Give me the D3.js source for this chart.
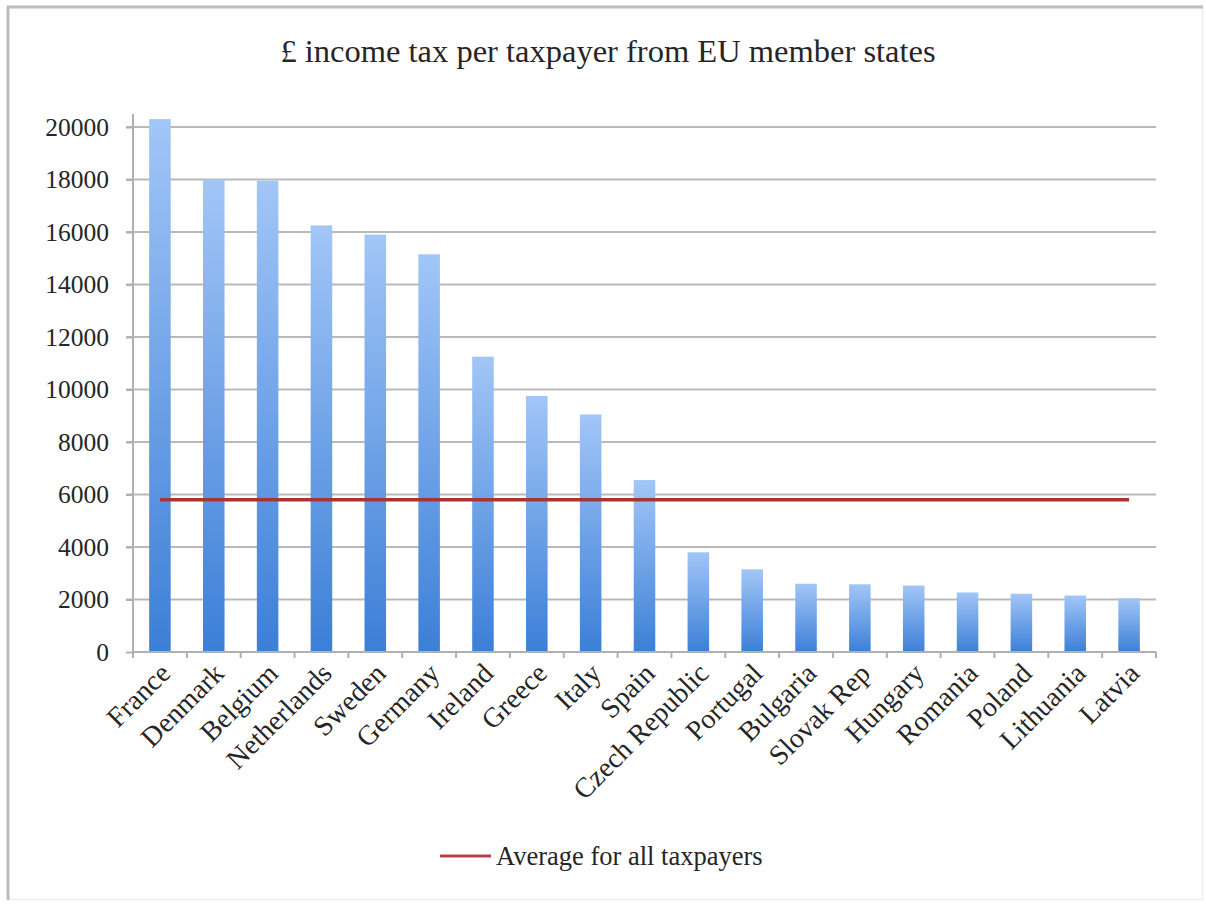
<!DOCTYPE html>
<html>
<head>
<meta charset="utf-8">
<script src="https://cdn.jsdelivr.net/npm/d3@7"></script>
<style>
  html, body { margin: 0; padding: 0; background: #fff; }
  svg { display: block; }
  text { font-family: "Liberation Serif", "Times New Roman", serif; fill: #262626; }
</style>
</head>
<body>
<div id="chart"></div>
<script>
// Income tax per taxpayer (£), by EU member state
const countries = ["France", "Denmark", "Belgium", "Netherlands", "Sweden", "Germany",
  "Ireland", "Greece", "Italy", "Spain", "Czech Republic", "Portugal", "Bulgaria",
  "Slovak Rep", "Hungary", "Romania", "Poland", "Lithuania", "Latvia"];
const taxPerTaxpayer = [20300, 18000, 17950, 16250, 15900, 15150, 11250, 9750, 9050,
  6550, 3800, 3150, 2600, 2580, 2530, 2270, 2220, 2150, 2050];
const averageAll = 5800;
const yTicks = [0, 2000, 4000, 6000, 8000, 10000, 12000, 14000, 16000, 18000, 20000];
const titleText = "£ income tax per taxpayer from EU member states";
const legendLabel = "Average for all taxpayers";

const W = 1206, H = 906;
const plot = { left: 133, right: 1156, top: 127, bottom: 652 };

const svg = d3.select("#chart").append("svg").attr("width", W).attr("height", H);

// outer frame
svg.append("rect").attr("x", 8.5).attr("y", 7.5).attr("width", W - 12).attr("height", H - 14)
  .attr("fill", "#fff").attr("stroke", "#ededed").attr("stroke-width", 1.5);
svg.append("path").attr("d", `M8,${H - 6} L8,7 L${W - 3},7`)
  .attr("fill", "none").attr("stroke", "#bdbdbd").attr("stroke-width", 3);

const x = d3.scaleBand().domain(countries).range([plot.left, plot.right]);
const y = d3.scaleLinear().domain([0, 20000]).range([plot.bottom, plot.top]);

// bar gradient
const defs = svg.append("defs");
const grad = defs.append("linearGradient").attr("id", "barGrad")
  .attr("x1", 0).attr("y1", 0).attr("x2", 0).attr("y2", 1);
grad.append("stop").attr("offset", "0%").attr("stop-color", "#a2c6f7");
grad.append("stop").attr("offset", "100%").attr("stop-color", "#3c7fd7");

// gridlines
svg.append("g").selectAll("line").data(yTicks.filter(d => d > 0)).join("line")
  .attr("x1", plot.left - 7).attr("x2", plot.right)
  .attr("y1", d => y(d)).attr("y2", d => y(d))
  .attr("stroke", "#b9b9b9").attr("stroke-width", 2);

// y axis
const yAxis = svg.append("g").attr("transform", `translate(${plot.left},0)`)
  .call(d3.axisLeft(y).tickValues(yTicks).tickSize(7).tickPadding(17).tickFormat(d3.format("d")));
yAxis.select(".domain").remove();
yAxis.selectAll(".tick line").attr("stroke", "#b0b0b0").attr("stroke-width", 2);
yAxis.selectAll(".tick text").style("font-size", "25.5px").attr("fill", "#262626")
  .style("font-family", "'Liberation Serif', serif");
svg.append("line").attr("x1", plot.left).attr("x2", plot.left)
  .attr("y1", y(0)).attr("y2", y(20500))
  .attr("stroke", "#b0b0b0").attr("stroke-width", 2);

// bars
const barW = x.bandwidth() * 0.4;
svg.append("g").selectAll("rect").data(countries).join("rect")
  .attr("x", d => x(d) + (x.bandwidth() - barW) / 2)
  .attr("width", barW)
  .attr("y", (d, i) => y(taxPerTaxpayer[i]))
  .attr("height", (d, i) => y(0) - y(taxPerTaxpayer[i]))
  .attr("fill", "url(#barGrad)");

// x axis
svg.append("line").attr("x1", plot.left).attr("x2", plot.right)
  .attr("y1", y(0)).attr("y2", y(0))
  .attr("stroke", "#b0b0b0").attr("stroke-width", 2);
const bounds = countries.map(c => x(c)).concat([x(countries[countries.length - 1]) + x.bandwidth()]);
svg.append("g").selectAll("line").data(bounds).join("line")
  .attr("x1", d => d).attr("x2", d => d)
  .attr("y1", y(0)).attr("y2", y(0) + 6)
  .attr("stroke", "#b0b0b0").attr("stroke-width", 2);

// category labels
svg.append("g").selectAll("text").data(countries).join("text")
  .attr("transform", d => `translate(${x(d) + x.bandwidth() / 2 + 12},${y(0) + 23}) rotate(-45)`)
  .attr("text-anchor", "end")
  .style("font-size", "28px")
  .text(d => d);

// average line
svg.append("line")
  .attr("x1", x(countries[0]) + x.bandwidth() / 2)
  .attr("x2", x(countries[countries.length - 1]) + x.bandwidth() / 2)
  .attr("y1", y(averageAll)).attr("y2", y(averageAll))
  .attr("stroke", "#a93434").attr("stroke-width", 3.5);

// title
svg.append("text").attr("x", 608).attr("y", 62).attr("text-anchor", "middle")
  .style("font-size", "32.5px").text(titleText);

// legend
const lg = svg.append("g").attr("transform", "translate(440,856)");
lg.append("line").attr("x1", 0).attr("x2", 51).attr("y1", 0).attr("y2", 0)
  .attr("stroke", "#b8404a").attr("stroke-width", 3);
lg.append("text").attr("x", 56).attr("y", 9).style("font-size", "26.5px").text(legendLabel);
</script>
</body>
</html>
